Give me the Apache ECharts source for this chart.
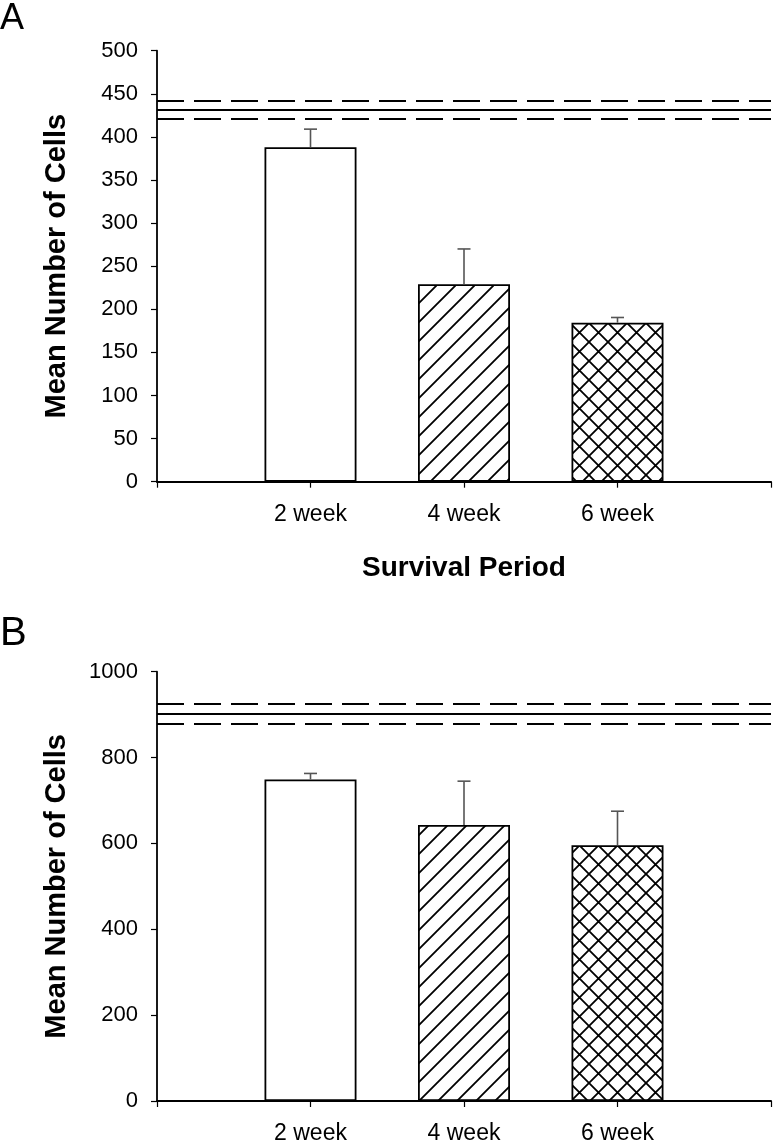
<!DOCTYPE html>
<html>
<head>
<meta charset="utf-8">
<script src="https://cdn.jsdelivr.net/npm/echarts@6/dist/echarts.min.js"></script>
<style>
  html, body { margin: 0; padding: 0; background: #fff; }
  #chart { width: 774px; height: 1145px; }
</style>
</head>
<body>
<div id="chart"></div>
<script>
// ---- Data ----
var categories = ['2 week', '4 week', '6 week'];
var meansA = [388, 229, 184.5];
var semA = [21, 41, 6];
var meansB = [749, 643, 596];
var semB = [14, 102, 79];
// reference (control) lines: upper dashed, mean solid, lower dashed
var refA = [441.5, 431, 420.5];
var refB = [924.5, 901, 878];
var yTicksA = { min: 0, max: 500, interval: 50 };
var yTicksB = { min: 0, max: 1000, interval: 200 };
var panelLabels = ['A', 'B'];
var yTitle = 'Mean Number of Cells';
var xTitle = 'Survival Period';

// ---- Patterns ----
function makePattern(cross) {
  var p = 19;
  var c = document.createElement('canvas');
  c.width = p; c.height = p;
  var ctx = c.getContext('2d');
  ctx.fillStyle = '#fff';
  ctx.fillRect(0, 0, p, p);
  ctx.strokeStyle = '#000';
  ctx.lineWidth = 1.8;
  ctx.beginPath();
  [0, p, 2 * p].forEach(function (k) {
    ctx.moveTo(k + 3, -3); ctx.lineTo(-3, k + 3);
  });
  if (cross) {
    [-p, 0, p].forEach(function (k) {
      ctx.moveTo(k - 3, -3); ctx.lineTo(k + p + 3, p + 3);
    });
  }
  ctx.stroke();
  return { image: c, repeat: 'repeat' };
}
var fills = ['#ffffff', makePattern(false), makePattern(true)];

var xCats = [''].concat(categories).concat(['']);
function barData(means) {
  var d = ['-'];
  means.forEach(function (v, i) {
    d.push({ value: v, itemStyle: { color: fills[i] } });
  });
  d.push('-');
  return d;
}
function errData(means, sems) {
  return means.map(function (v, i) { return [i + 1, v, v + sems[i]]; });
}
function refMarks(ref) {
  return ref.map(function (v, i) {
    return { yAxis: v, lineStyle: { type: i === 1 ? 'solid' : [27, 10], color: '#000', width: 1.8 } };
  });
}

var FONT = '"Liberation Sans", Arial, sans-serif';
var gridTops = [50.7, 671.7];

function xAxisCfg(gi, withName) {
  var a = {
    type: 'category', gridIndex: gi, data: xCats, boundaryGap: false,
    axisLine: { lineStyle: { color: '#000', width: 2 } },
    axisTick: { show: true, length: 6, lineStyle: { color: '#000', width: 1.2 } },
    axisLabel: { color: '#000', fontSize: 23, fontFamily: FONT, margin: 21, interval: 0 },
    splitLine: { show: false }
  };
  if (withName) {
    a.name = xTitle; a.nameLocation = 'middle'; a.nameGap = 73;
    a.nameTextStyle = { fontSize: 28, fontWeight: 'bold', color: '#000', fontFamily: FONT };
  }
  return a;
}
function yAxisCfg(gi, t) {
  return {
    type: 'value', gridIndex: gi, min: t.min, max: t.max, interval: t.interval,
    name: yTitle, nameLocation: 'middle', nameGap: 86,
    nameTextStyle: { fontSize: 29, fontWeight: 'bold', color: '#000', fontFamily: FONT },
    axisLine: { show: true, lineStyle: { color: '#000', width: 1.8 } },
    axisTick: { show: true, length: 6, lineStyle: { color: '#000', width: 1.2 } },
    axisLabel: { color: '#000', fontSize: 22, fontFamily: FONT, margin: 19,
      formatter: function (v) { return String(v); } },
    splitLine: { show: false }
  };
}
function errorRender(params, api) {
  var x = api.value(0);
  var top = api.coord([x, api.value(2)]);
  var base = api.coord([x, api.value(1)]);
  var hw = 6.5;
  var st = { stroke: '#555', lineWidth: 1.6 };
  return {
    type: 'group',
    children: [
      { type: 'line', shape: { x1: top[0], y1: base[1], x2: top[0], y2: top[1] }, style: st },
      { type: 'line', shape: { x1: top[0] - hw, y1: top[1], x2: top[0] + hw, y2: top[1] }, style: st }
    ]
  };
}

var chart = echarts.init(document.getElementById('chart'), null, { renderer: 'canvas' });
chart.setOption({
  backgroundColor: '#fff',
  animation: false,
  grid: [
    { left: 157, right: 1, top: gridTops[0], height: 431 },
    { left: 157, right: 1, top: gridTops[1], height: 431 }
  ],
  xAxis: [xAxisCfg(0, true), xAxisCfg(1, false)],
  yAxis: [yAxisCfg(0, yTicksA), yAxisCfg(1, yTicksB)],
  graphic: [
    { type: 'text', left: 0, top: 1, style: { text: panelLabels[0], font: '36px ' + FONT, fill: '#000' } },
    { type: 'text', left: 0, top: 614, style: { text: panelLabels[1], font: '40px ' + FONT, fill: '#000' } }
  ],
  series: [
    {
      type: 'bar', xAxisIndex: 0, yAxisIndex: 0, data: barData(meansA), barWidth: 92,
      itemStyle: { borderColor: '#000', borderWidth: 1.8 },
      markLine: { silent: true, symbol: 'none', label: { show: false }, data: refMarks(refA) }
    },
    {
      type: 'custom', xAxisIndex: 0, yAxisIndex: 0, data: errData(meansA, semA),
      renderItem: errorRender, z: 5
    },
    {
      type: 'bar', xAxisIndex: 1, yAxisIndex: 1, data: barData(meansB), barWidth: 92,
      itemStyle: { borderColor: '#000', borderWidth: 1.8 },
      markLine: { silent: true, symbol: 'none', label: { show: false }, data: refMarks(refB) }
    },
    {
      type: 'custom', xAxisIndex: 1, yAxisIndex: 1, data: errData(meansB, semB),
      renderItem: errorRender, z: 5
    }
  ]
});
</script>
</body>
</html>
